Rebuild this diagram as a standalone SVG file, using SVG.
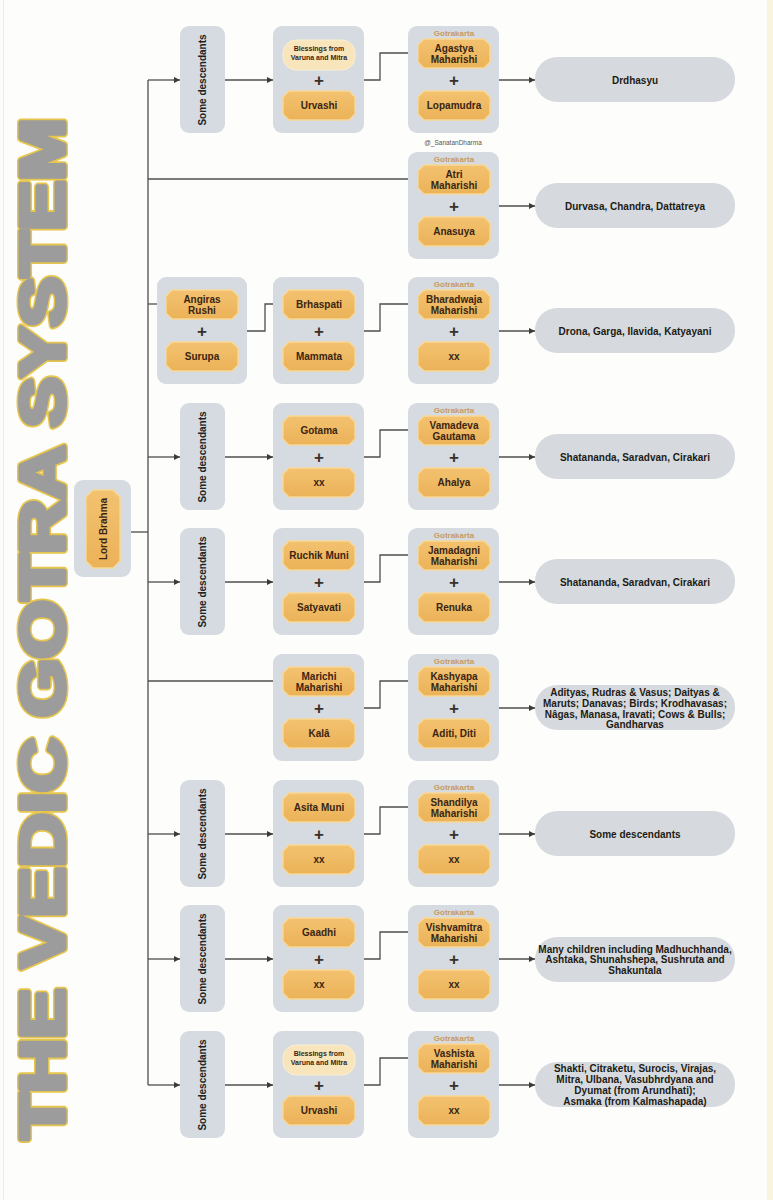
<svg xmlns="http://www.w3.org/2000/svg" xmlns:xlink="http://www.w3.org/1999/xlink" width="773" height="1200" viewBox="0 0 773 1200">
<defs>
<style>
.bg{fill:#FDFDFB}
.box{fill:#D5DBE0}
.pill{fill:#D6DADF}
.oct{fill:url(#og);stroke:#F7D896;stroke-width:1.4}
.bless{fill:#F8E5BC;stroke:#FBEFD2;stroke-width:1}
.t{font-family:"Liberation Sans",Arial,sans-serif;font-weight:bold;font-size:10px;fill:#3A2512;text-anchor:middle}
.tp{font-family:"Liberation Sans",Arial,sans-serif;font-weight:bold;font-size:10px;fill:#221A14;text-anchor:middle}
.ts{font-family:"Liberation Sans",Arial,sans-serif;font-weight:bold;font-size:7px;fill:#3A2512;text-anchor:middle}
.plus{font-family:"Liberation Sans",Arial,sans-serif;font-weight:bold;font-size:17px;fill:#3A3028;text-anchor:middle}
.gk{font-family:"Liberation Sans",Arial,sans-serif;font-weight:bold;font-size:8px;fill:#C99A62;text-anchor:middle}
.sd{font-family:"Liberation Sans",Arial,sans-serif;font-weight:bold;font-size:10px;fill:#222;text-anchor:middle}
.wm{font-family:"Liberation Sans",Arial,sans-serif;font-size:6.5px;fill:#555;text-anchor:middle}
.title{font-family:"Liberation Sans",Arial,sans-serif;font-weight:bold;font-size:63px;stroke-linejoin:round}
.title-out{fill:#E6C64E;stroke:#E6C64E;stroke-width:8}
.title-in{fill:#9C9C9C;stroke:#9C9C9C;stroke-width:5}
.ln{fill:none;stroke:#4E4E4E;stroke-width:1.3}
.arr{marker-end:url(#ah)}
</style>
<linearGradient id="og" x1="0" y1="0" x2="0" y2="1">
<stop offset="0" stop-color="#F3C270"/>
<stop offset="1" stop-color="#EBB258"/>
</linearGradient>
<marker id="ah" markerUnits="userSpaceOnUse" markerWidth="7" markerHeight="6" refX="6" refY="3" orient="auto">
<path d="M0,0 L6,3 L0,6 z" fill="#3A3A3A"/>
</marker>
<polygon id="oct" class="oct" points="6,0 66,0 72,6 72,23 66,29 6,29 0,23 0,6"/>
<rect id="bl" class="bless" x="0" y="0" width="72" height="30" rx="13"/>
</defs>

<rect class="bg" x="0" y="0" width="773" height="1200"/>
<rect x="767" y="0" width="6" height="1200" fill="#F8F4DE"/>
<line x1="3.5" y1="0" x2="3.5" y2="1200" stroke="#ECECEC" stroke-width="1"/>

<g id="title">
<text class="title title-out" transform="translate(64,1139) rotate(-90)" textLength="1021" lengthAdjust="spacingAndGlyphs">THE VEDIC GOTRA SYSTEM</text>
<text class="title title-in" transform="translate(64,1139) rotate(-90)" textLength="1021" lengthAdjust="spacingAndGlyphs">THE VEDIC GOTRA SYSTEM</text>
</g>

<g id="connectors">
<path class="ln" d="M148 80 V1085"/>
<path class="ln" d="M131 532 H148"/>
<path class="ln arr" d="M148 80 H180"/>
<path class="ln arr" d="M225 80 H273"/>
<path class="ln arr" d="M364 80 H380 V53 H418"/>
<path class="ln arr" d="M499 80 H535"/>
<path class="ln arr" d="M148 179 H418"/>
<path class="ln arr" d="M499 206 H535"/>
<path class="ln arr" d="M148 304 H167"/>
<path class="ln arr" d="M247 331 H265 V304 H283"/>
<path class="ln arr" d="M364 331 H380 V304 H418"/>
<path class="ln arr" d="M499 331 H535"/>
<path class="ln arr" d="M148 457 H180"/>
<path class="ln arr" d="M225 457 H273"/>
<path class="ln arr" d="M364 457 H380 V430 H418"/>
<path class="ln arr" d="M499 457 H535"/>
<path class="ln arr" d="M148 582 H180"/>
<path class="ln arr" d="M225 582 H273"/>
<path class="ln arr" d="M364 582 H380 V555 H418"/>
<path class="ln arr" d="M499 582 H535"/>
<path class="ln arr" d="M148 681 H283"/>
<path class="ln arr" d="M364 708 H380 V681 H418"/>
<path class="ln arr" d="M499 708 H535"/>
<path class="ln arr" d="M148 834 H180"/>
<path class="ln arr" d="M225 834 H273"/>
<path class="ln arr" d="M364 834 H380 V807 H418"/>
<path class="ln arr" d="M499 834 H535"/>
<path class="ln arr" d="M148 959 H180"/>
<path class="ln arr" d="M225 959 H273"/>
<path class="ln arr" d="M364 959 H380 V932 H418"/>
<path class="ln arr" d="M499 959 H535"/>
<path class="ln arr" d="M148 1085 H180"/>
<path class="ln arr" d="M225 1085 H273"/>
<path class="ln arr" d="M364 1085 H380 V1058 H418"/>
<path class="ln arr" d="M499 1085 H535"/>
</g>

<g id="lord-brahma">
<rect class="box" x="74" y="480" width="57" height="97" rx="9"/>
<polygon class="oct" points="93,490 113,490 120,497 120,561 113,568 93,568 86,561 86,497"/>
<text class="t" font-size="10.5" transform="translate(106.5,529) rotate(-90)">Lord Brahma</text>
</g>

<text class="wm" x="453" y="145">@_SanatanDharma</text>

<g id="r1-sd"><rect class="box" x="180" y="26" width="45" height="107" rx="9"/><text class="sd" transform="translate(206,80) rotate(-90)">Some descendants</text></g>
<g id="r1-mid"><rect class="box" x="273" y="26" width="91" height="107" rx="9"/>
<use href="#bl" x="283" y="40"/>
<text class="ts" x="319" y="50.5">Blessings from</text><text class="ts" x="319" y="59.5">Varuna and Mitra</text>
<text class="plus" x="319" y="86">+</text>
<use href="#oct" x="283" y="91"/><text class="t" x="319" y="109">Urvashi</text></g>
<g id="r1-gk"><rect class="box" x="408" y="26" width="91" height="107" rx="9"/>
<text class="gk" x="454" y="36">Gotrakarta</text>
<use href="#oct" x="418" y="39"/><text class="t" x="454" y="51.5">Agastya</text><text class="t" x="454" y="62.5">Maharishi</text>
<text class="plus" x="454" y="86">+</text>
<use href="#oct" x="418" y="91"/><text class="t" x="454" y="109">Lopamudra</text></g>
<g id="r1-out"><rect class="pill" x="535" y="57" width="200" height="45" rx="22"/><text class="tp" x="635" y="83.5">Drdhasyu</text></g>

<g id="r2-gk"><rect class="box" x="408" y="152" width="91" height="107" rx="9"/>
<text class="gk" x="454" y="162">Gotrakarta</text>
<use href="#oct" x="418" y="165"/><text class="t" x="454" y="177.5">Atri</text><text class="t" x="454" y="188.5">Maharishi</text>
<text class="plus" x="454" y="212">+</text>
<use href="#oct" x="418" y="217"/><text class="t" x="454" y="235">Anasuya</text></g>
<g id="r2-out"><rect class="pill" x="535" y="183" width="200" height="45" rx="22"/><text class="tp" x="635" y="209.5">Durvasa, Chandra, Dattatreya</text></g>

<g id="r3-first"><rect class="box" x="157" y="277" width="90" height="107" rx="9"/>
<use href="#oct" x="166" y="290"/><text class="t" x="202" y="302.5">Angiras</text><text class="t" x="202" y="313.5">Rushi</text>
<text class="plus" x="202" y="337">+</text>
<use href="#oct" x="166" y="342"/><text class="t" x="202" y="360">Surupa</text></g>
<g id="r3-mid"><rect class="box" x="273" y="277" width="91" height="107" rx="9"/>
<use href="#oct" x="283" y="290"/><text class="t" x="319" y="308">Brhaspati</text>
<text class="plus" x="319" y="337">+</text>
<use href="#oct" x="283" y="342"/><text class="t" x="319" y="360">Mammata</text></g>
<g id="r3-gk"><rect class="box" x="408" y="277" width="91" height="107" rx="9"/>
<text class="gk" x="454" y="287">Gotrakarta</text>
<use href="#oct" x="418" y="290"/><text class="t" x="454" y="302.5">Bharadwaja</text><text class="t" x="454" y="313.5">Maharishi</text>
<text class="plus" x="454" y="337">+</text>
<use href="#oct" x="418" y="342"/><text class="t" x="454" y="360">xx</text></g>
<g id="r3-out"><rect class="pill" x="535" y="308" width="200" height="45" rx="22"/><text class="tp" x="635" y="334.5">Drona, Garga, Ilavida, Katyayani</text></g>

<g id="r4-sd"><rect class="box" x="180" y="403" width="45" height="107" rx="9"/><text class="sd" transform="translate(206,457) rotate(-90)">Some descendants</text></g>
<g id="r4-mid"><rect class="box" x="273" y="403" width="91" height="107" rx="9"/>
<use href="#oct" x="283" y="416"/><text class="t" x="319" y="434">Gotama</text>
<text class="plus" x="319" y="463">+</text>
<use href="#oct" x="283" y="468"/><text class="t" x="319" y="486">xx</text></g>
<g id="r4-gk"><rect class="box" x="408" y="403" width="91" height="107" rx="9"/>
<text class="gk" x="454" y="413">Gotrakarta</text>
<use href="#oct" x="418" y="416"/><text class="t" x="454" y="428.5">Vamadeva</text><text class="t" x="454" y="439.5">Gautama</text>
<text class="plus" x="454" y="463">+</text>
<use href="#oct" x="418" y="468"/><text class="t" x="454" y="486">Ahalya</text></g>
<g id="r4-out"><rect class="pill" x="535" y="434" width="200" height="45" rx="22"/><text class="tp" x="635" y="460.5">Shatananda, Saradvan, Cirakari</text></g>

<g id="r5-sd"><rect class="box" x="180" y="528" width="45" height="107" rx="9"/><text class="sd" transform="translate(206,582) rotate(-90)">Some descendants</text></g>
<g id="r5-mid"><rect class="box" x="273" y="528" width="91" height="107" rx="9"/>
<use href="#oct" x="283" y="541"/><text class="t" x="319" y="559">Ruchik Muni</text>
<text class="plus" x="319" y="588">+</text>
<use href="#oct" x="283" y="593"/><text class="t" x="319" y="611">Satyavati</text></g>
<g id="r5-gk"><rect class="box" x="408" y="528" width="91" height="107" rx="9"/>
<text class="gk" x="454" y="538">Gotrakarta</text>
<use href="#oct" x="418" y="541"/><text class="t" x="454" y="553.5">Jamadagni</text><text class="t" x="454" y="564.5">Maharishi</text>
<text class="plus" x="454" y="588">+</text>
<use href="#oct" x="418" y="593"/><text class="t" x="454" y="611">Renuka</text></g>
<g id="r5-out"><rect class="pill" x="535" y="559" width="200" height="45" rx="22"/><text class="tp" x="635" y="585.5">Shatananda, Saradvan, Cirakari</text></g>

<g id="r6-mid"><rect class="box" x="273" y="654" width="91" height="107" rx="9"/>
<use href="#oct" x="283" y="667"/><text class="t" x="319" y="679.5">Marichi</text><text class="t" x="319" y="690.5">Maharishi</text>
<text class="plus" x="319" y="714">+</text>
<use href="#oct" x="283" y="719"/><text class="t" x="319" y="737">Kalâ</text></g>
<g id="r6-gk"><rect class="box" x="408" y="654" width="91" height="107" rx="9"/>
<text class="gk" x="454" y="664">Gotrakarta</text>
<use href="#oct" x="418" y="667"/><text class="t" x="454" y="679.5">Kashyapa</text><text class="t" x="454" y="690.5">Maharishi</text>
<text class="plus" x="454" y="714">+</text>
<use href="#oct" x="418" y="719"/><text class="t" x="454" y="737">Aditi, Diti</text></g>
<g id="r6-out"><rect class="pill" x="535" y="685" width="200" height="45" rx="22"/>
<text class="tp" x="635" y="695.5">Adityas, Rudras &amp; Vasus; Daityas &amp;</text>
<text class="tp" x="635" y="706.5">Maruts; Danavas; Birds; Krodhavasas;</text>
<text class="tp" x="635" y="717.5">Nâgas, Manasa, Iravati; Cows &amp; Bulls;</text>
<text class="tp" x="635" y="727.5">Gandharvas</text></g>

<g id="r7-sd"><rect class="box" x="180" y="780" width="45" height="107" rx="9"/><text class="sd" transform="translate(206,834) rotate(-90)">Some descendants</text></g>
<g id="r7-mid"><rect class="box" x="273" y="780" width="91" height="107" rx="9"/>
<use href="#oct" x="283" y="793"/><text class="t" x="319" y="811">Asita Muni</text>
<text class="plus" x="319" y="840">+</text>
<use href="#oct" x="283" y="845"/><text class="t" x="319" y="863">xx</text></g>
<g id="r7-gk"><rect class="box" x="408" y="780" width="91" height="107" rx="9"/>
<text class="gk" x="454" y="790">Gotrakarta</text>
<use href="#oct" x="418" y="793"/><text class="t" x="454" y="805.5">Shandilya</text><text class="t" x="454" y="816.5">Maharishi</text>
<text class="plus" x="454" y="840">+</text>
<use href="#oct" x="418" y="845"/><text class="t" x="454" y="863">xx</text></g>
<g id="r7-out"><rect class="pill" x="535" y="811" width="200" height="45" rx="22"/><text class="tp" x="635" y="837.5">Some descendants</text></g>

<g id="r8-sd"><rect class="box" x="180" y="905" width="45" height="107" rx="9"/><text class="sd" transform="translate(206,959) rotate(-90)">Some descendants</text></g>
<g id="r8-mid"><rect class="box" x="273" y="905" width="91" height="107" rx="9"/>
<use href="#oct" x="283" y="918"/><text class="t" x="319" y="936">Gaadhi</text>
<text class="plus" x="319" y="965">+</text>
<use href="#oct" x="283" y="970"/><text class="t" x="319" y="988">xx</text></g>
<g id="r8-gk"><rect class="box" x="408" y="905" width="91" height="107" rx="9"/>
<text class="gk" x="454" y="915">Gotrakarta</text>
<use href="#oct" x="418" y="918"/><text class="t" x="454" y="930.5">Vishvamitra</text><text class="t" x="454" y="941.5">Maharishi</text>
<text class="plus" x="454" y="965">+</text>
<use href="#oct" x="418" y="970"/><text class="t" x="454" y="988">xx</text></g>
<g id="r8-out"><rect class="pill" x="535" y="937" width="200" height="45" rx="22"/>
<text class="tp" x="635" y="952.5">Many children including Madhuchhanda,</text>
<text class="tp" x="635" y="963">Ashtaka, Shunahshepa, Sushruta and</text>
<text class="tp" x="635" y="973.5">Shakuntala</text></g>

<g id="r9-sd"><rect class="box" x="180" y="1031" width="45" height="107" rx="9"/><text class="sd" transform="translate(206,1085) rotate(-90)">Some descendants</text></g>
<g id="r9-mid"><rect class="box" x="273" y="1031" width="91" height="107" rx="9"/>
<use href="#bl" x="283" y="1045"/>
<text class="ts" x="319" y="1055.5">Blessings from</text><text class="ts" x="319" y="1064.5">Varuna and Mitra</text>
<text class="plus" x="319" y="1091">+</text>
<use href="#oct" x="283" y="1096"/><text class="t" x="319" y="1114">Urvashi</text></g>
<g id="r9-gk"><rect class="box" x="408" y="1031" width="91" height="107" rx="9"/>
<text class="gk" x="454" y="1041">Gotrakarta</text>
<use href="#oct" x="418" y="1044"/><text class="t" x="454" y="1056.5">Vashista</text><text class="t" x="454" y="1067.5">Maharishi</text>
<text class="plus" x="454" y="1091">+</text>
<use href="#oct" x="418" y="1096"/><text class="t" x="454" y="1114">xx</text></g>
<g id="r9-out"><rect class="pill" x="535" y="1062" width="200" height="45" rx="22"/>
<text class="tp" x="635" y="1071.5">Shakti, Citraketu, Surocis, Virajas,</text>
<text class="tp" x="635" y="1082.5">Mitra, Ulbana, Vasubhrdyana and</text>
<text class="tp" x="635" y="1093.5">Dyumat (from Arundhati);</text>
<text class="tp" x="635" y="1104.5">Asmaka (from Kalmashapada)</text></g>
</svg>
